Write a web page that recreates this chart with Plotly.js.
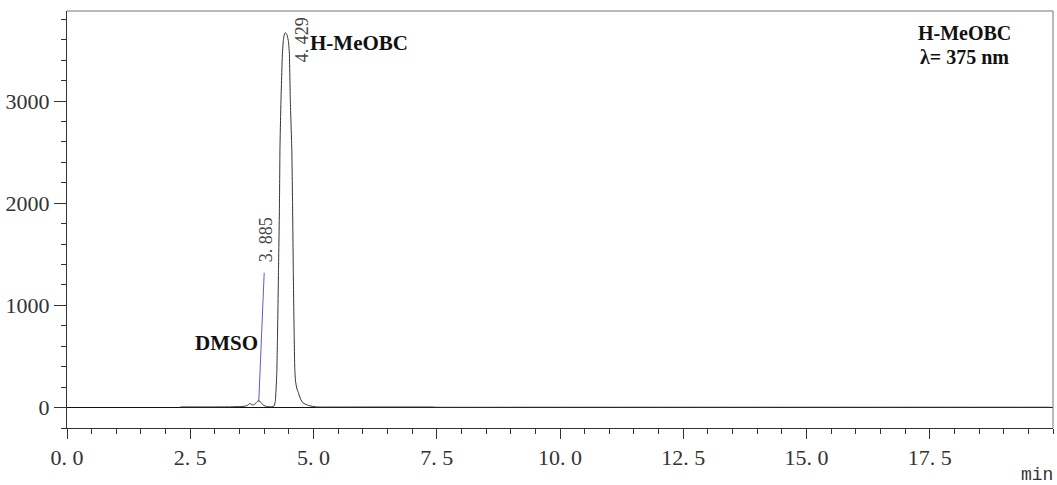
<!DOCTYPE html>
<html>
<head>
<meta charset="utf-8">
<script src="https://cdn.plot.ly/plotly-3.0.1.min.js"></script>
<style>
  html, body { margin: 0; padding: 0; background: #ffffff; }
  #chart { width: 1057px; height: 485px; }
</style>
</head>
<body>
<div id="chart"></div>
<script>
// Chromatogram signal (retention time in min, detector response)
const timeMin = [
  2.30, 2.60, 3.00, 3.30, 3.55, 3.65, 3.71, 3.76, 3.80, 3.85, 3.89, 3.93, 3.98, 4.05, 4.15,
  4.20, 4.225, 4.24, 4.255, 4.27, 4.29, 4.31, 4.32, 4.34, 4.37, 4.39, 4.41, 4.43, 4.46, 4.49,
  4.51, 4.53, 4.56, 4.575, 4.59, 4.605, 4.62, 4.635, 4.66, 4.69, 4.74, 4.79, 4.90, 5.06, 5.50, 7.40,
  7.50, 9.20, 10.30, 14.30, 17.00, 19.95
];
const response = [
  6, 6, 6, 7, 10, 18, 40, 25, 30, 55, 72, 50, 25, 10, 8,
  15, 60, 170, 330, 700, 1343, 2000, 2550, 3000, 3470, 3600, 3655, 3670, 3650, 3590,
  3470, 3000, 2520, 2000, 1343, 800, 380, 260, 190, 150, 80, 45, 20, 6, 5, 5,
  3, 3, 3, 3, 3, 3
];

// Integration marker drawn at the DMSO peak
const markerTime = [3.89, 4.00];
const markerResp = [55, 1320];

// Axis ticks
const xTickVals = [0, 2.5, 5, 7.5, 10, 12.5, 15, 17.5];
const xTickText = ['0. 0', '2. 5', '5. 0', '7. 5', '10. 0', '12. 5', '15. 0', '17. 5'];
const yTickVals = [0, 1000, 2000, 3000];
const yTickText = ['0', '1000', '2000', '3000'];

// Peak retention-time labels
const peakTimes = ['3. 885', '4. 429'];

const serif = 'Liberation Serif, Times New Roman, serif';

const traces = [
  {
    x: timeMin, y: response, type: 'scatter', mode: 'lines',
    line: { color: '#333333', width: 1, shape: 'spline', smoothing: 0.4 }, hoverinfo: 'skip'
  },
  {
    x: markerTime, y: markerResp, type: 'scatter', mode: 'lines',
    line: { color: '#5b5bd8', width: 1 }, hoverinfo: 'skip'
  }
];

const layout = {
  width: 1057, height: 485,
  margin: { l: 67, r: 4, t: 11, b: 57 },
  paper_bgcolor: '#ffffff', plot_bgcolor: '#ffffff',
  showlegend: false,
  xaxis: {
    range: [0, 20],
    tickmode: 'array', tickvals: xTickVals, ticktext: xTickText,
    ticks: 'outside', ticklen: 10, tickcolor: '#333', tickwidth: 1,
    minor: { dtick: 0.5, tick0: 0, ticks: 'outside', ticklen: 5, tickcolor: '#333', showgrid: false },
    showgrid: false, zeroline: false,
    showline: true, linecolor: '#333', linewidth: 1,
    tickfont: { family: serif, size: 22, color: '#333' },
    fixedrange: true
  },
  yaxis: {
    range: [-200, 3881],
    tickmode: 'array', tickvals: yTickVals, ticktext: yTickText,
    ticks: 'outside', ticklen: 12, tickcolor: '#333', tickwidth: 1,
    minor: { dtick: 200, tick0: 0, ticks: 'outside', ticklen: 5, tickcolor: '#333', showgrid: false },
    showgrid: false,
    zeroline: true, zerolinecolor: '#111', zerolinewidth: 1,
    showline: true, linecolor: '#333', linewidth: 1,
    tickfont: { family: serif, size: 22, color: '#333' },
    ticklabelstandoff: 0,
    fixedrange: true
  },
  shapes: [
    // top and right edges of the frame
    { type: 'line', xref: 'paper', yref: 'paper', x0: 0, x1: 1, y0: 1, y1: 1,
      line: { color: '#777', width: 1 } },
    { type: 'line', xref: 'paper', yref: 'paper', x0: 1, x1: 1, y0: 0, y1: 1,
      line: { color: '#777', width: 1 } }
  ],
  annotations: [
    { x: 4.04, y: 1639, xref: 'x', yref: 'y', text: peakTimes[0], textangle: -90,
      showarrow: false, xanchor: 'center', yanchor: 'middle',
      font: { family: serif, size: 18, color: '#444' } },
    { x: 4.757, y: 3600, xref: 'x', yref: 'y', text: peakTimes[1], textangle: -90,
      showarrow: false, xanchor: 'center', yanchor: 'middle',
      font: { family: serif, size: 18, color: '#444' } },
    { x: 5.92, y: 3565, xref: 'x', yref: 'y', text: '<b>H-MeOBC</b>',
      showarrow: false, xanchor: 'center', yanchor: 'middle',
      font: { family: serif, size: 21, color: '#111' } },
    { x: 3.235, y: 630, xref: 'x', yref: 'y', text: '<b>DMSO</b>',
      showarrow: false, xanchor: 'center', yanchor: 'middle',
      font: { family: serif, size: 21, color: '#111' } },
    { x: 18.21, y: 3666, xref: 'x', yref: 'y', text: '<b>H-MeOBC</b>',
      showarrow: false, xanchor: 'center', yanchor: 'middle',
      font: { family: serif, size: 20, color: '#111' } },
    { x: 18.21, y: 3431, xref: 'x', yref: 'y', text: '<b>λ= 375 nm</b>',
      showarrow: false, xanchor: 'center', yanchor: 'middle',
      font: { family: serif, size: 20, color: '#111' } },
    { x: 0.984, y: -0.113, xref: 'paper', yref: 'paper', text: 'min',
      showarrow: false, xanchor: 'center', yanchor: 'middle',
      font: { family: 'Liberation Mono, DejaVu Sans Mono, monospace', size: 18, color: '#333' } }
  ]
};

Plotly.newPlot('chart', traces, layout, { displayModeBar: false, staticPlot: true });
</script>
</body>
</html>
